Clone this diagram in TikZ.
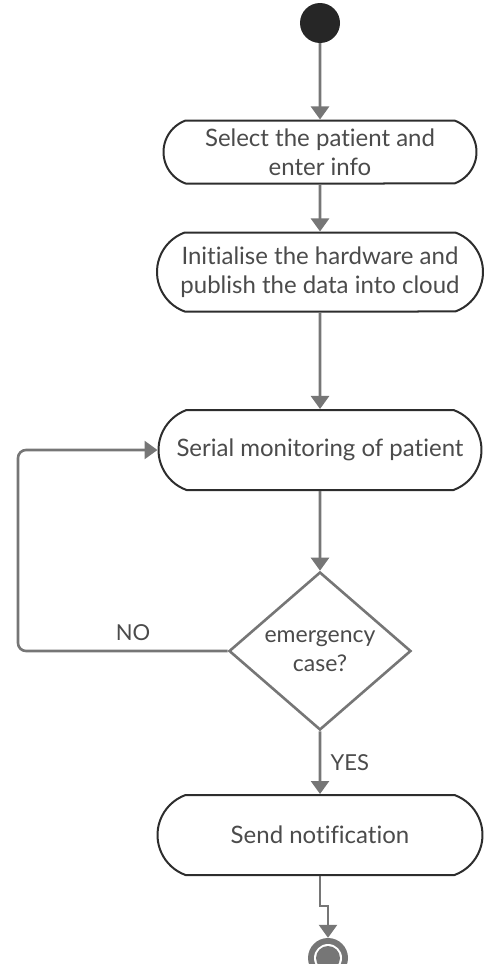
\documentclass[tikz,border=0pt]{standalone}
\usepackage{fontspec}
\setmainfont{Lato}[Ligatures=NoCommon]
\usepackage{tikz}
\usetikzlibrary{arrows.meta, positioning, shapes.geometric, shapes.misc}
\usepackage{xcolor}
\definecolor{flow}{RGB}{118,118,118}
\definecolor{edge}{RGB}{45,45,45}
\definecolor{ink}{RGB}{75,75,75}

\begin{document}
\begin{tikzpicture}[x=1pt, y=-1pt,
  activity/.style={rounded rectangle, rounded rectangle arc length=140,
    draw=edge, line width=2pt, line join=round, fill=white, text=ink,
    align=center, inner sep=0pt, font=\fontsize{24}{29}\selectfont},
  decision/.style={diamond, draw=flow, line width=2.6pt, fill=white,
    text=ink, align=center, inner sep=0pt, font=\fontsize{23}{29}\selectfont},
  flowline/.style={draw=flow, line width=2.6pt,
    -{Triangle[width=18pt,length=13pt]}},
  guard/.style={text=ink, font=\fontsize{22}{26}\selectfont}]
  \useasboundingbox (0,0) rectangle (483,964);
  % start
  \node[circle, fill=black!85, minimum size=40pt, inner sep=0pt] (start) at (320,23) {};
  % activities
  \node[activity, minimum width=313pt, minimum height=63pt] (select) at (320,152)
    {Select the patient and\\enter info};
  \node[activity, minimum width=326pt, minimum height=79pt] (init) at (320,272)
    {Initialise the hardware and\\publish the data into cloud};
  \node[activity, minimum width=323pt, minimum height=80pt] (monitor) at (320,450)
    {Serial monitoring of patient};
  \node[decision, minimum width=182pt, minimum height=158pt] (check) at (320,651)
    {emergency\\case?};
  \node[activity, minimum width=325pt, minimum height=80pt] (notify) at (320,835)
    {Send notification};
  % end
  \node[circle, fill=flow, minimum size=40pt, inner sep=0pt] (stop) at (328,958) {};
  \fill[white] (stop.center) circle (14pt);
  \fill[flow] (stop.center) circle (12pt);
  % flow
  \draw[flowline] (start) -- (select);
  \draw[flowline] (select) -- (init);
  \draw[flowline] (init) -- (monitor);
  \draw[flowline] (monitor) -- (check);
  \draw[flowline] (check) -- (notify) node[guard, pos=0.5, right=6pt] {YES};
  \coordinate (back) at (18,550);
  \draw[flowline, rounded corners=8pt] (check.west) -- (check.west -| back)
    -- (monitor.west -| back) -- (monitor.west);
  \node[guard] (no) at (133,633) {NO};
  \draw[flowline] (notify.south) -- ++(0,30) -| (stop.north);
\end{tikzpicture}
\end{document}
